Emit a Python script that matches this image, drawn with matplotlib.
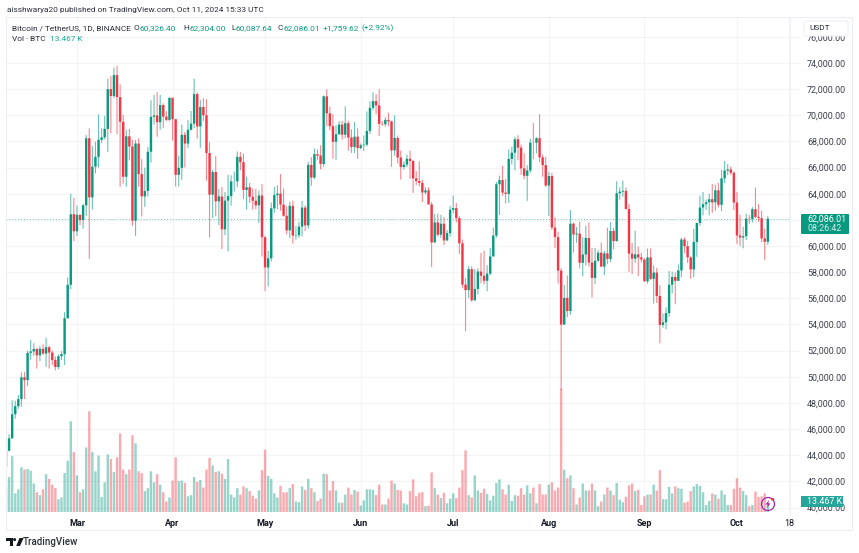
import pandas as pd
import matplotlib
matplotlib.use('Agg')
import matplotlib.pyplot as plt
from matplotlib.patches import Rectangle, FancyBboxPatch, Circle, Polygon

plt.rcParams['font.family'] = ['Roboto', 'DejaVu Sans']

dates = pd.date_range('2024-02-07', periods=248)

opens = [
    43087, 44341, 45293, 47132, 47751, 48293, 49958, 49742, 51826, 51939, 52123, 51642, 52137, 51775, 52258, 51849, 51288, 50744, 51571, 51733, 54476, 57037, 62432,
    61130, 62387, 61987, 63113, 68245, 63724, 66074, 66823, 68124, 68313, 68955, 72000, 71470, 73072, 71388, 69499, 65300, 68393, 67609, 61937, 67840, 65501, 63796, 64209, 67210, 69880, 69988, 69469, 70780, 69897, 69645,
    71333, 69702, 65446, 65980, 68508, 67837, 68896, 69360, 71620, 69146, 70631, 70006, 67116, 63924, 65661, 63419, 63793, 61277, 63470, 63818, 64941, 64941, 66819, 66414, 64289, 64498, 63770, 63461, 63118, 63866,
    60672, 58364, 59060, 62882, 63892, 64012, 63165, 62312, 61193, 63074, 60799, 60825, 61483, 62940, 61577, 66206, 65235, 67024, 66915, 66274, 71446, 70148, 69166, 67969, 68549, 69291, 68515, 69394, 68296, 67578, 68364,
    67491, 67706, 67751, 68804, 70567, 71082, 70757, 69342, 69310, 69648, 69540, 67314, 68263, 66773, 66043, 66228, 66676, 66504, 65175, 64974, 64828, 64096, 64252, 63180, 60277, 61806, 60864, 61706, 60427, 60986,
    62772, 62899, 62135, 60208, 57050, 56628, 58230, 55857, 56714, 58050, 57725, 57339, 57889, 59204, 60797, 64724, 65043, 64087, 63987, 66660, 67139, 68165, 67532, 65936, 65372, 65777, 67907, 67896, 68249, 66784, 66188,
    64628, 65354, 61415, 60680, 58116, 53991, 56034, 55027, 61710, 60880, 60945, 58719, 59354, 60609, 58737, 57560, 58874, 59491, 58427, 59438, 59013, 61156, 60375, 64037, 64157, 64220, 62834, 59415, 59034, 59359, 59123,
    58973, 57301, 59132, 57487, 57970, 56180, 53962, 54160, 54869, 57042, 57635, 57339, 58132, 60498, 59993, 59132, 58213, 60309, 61759, 62947, 63201, 63348, 63578, 63339, 64262, 63152, 65173, 65769, 65858, 65602,
    63327, 60805, 60649, 60752, 62086, 62058, 62819, 62224, 62134, 60582, 60326.40,
]
highs = [
    44400, 45600, 48200, 48170, 48600, 50334, 50368, 52000, 52816, 52570, 52200, 52345, 52488, 52985, 52370, 52000, 51548, 51700, 51960, 54938, 57588, 64000, 63676,
    63114, 62400, 63231, 68500, 69000, 67637, 67984, 70080, 68990, 69950, 72800, 73000, 73650, 73777, 72357, 70043, 68904, 68957, 68124, 68106, 68240, 66649, 65999, 67587, 71150, 71561, 71769, 71552, 70916, 70300, 71366,
    71366, 69708, 66914, 69291, 68725, 69629, 70326, 72797, 71758, 71172, 71305, 71227, 67931, 65840, 66867, 64365, 64499, 64125, 65450, 65419, 65695, 67232, 67199, 67075, 65297, 64820, 64400, 64370, 64228, 64734,
    60780, 59625, 63333, 64540, 64646, 65500, 64390, 63038, 63400, 63469, 61515, 61818, 63450, 63118, 66444, 66800, 67451, 67400, 67700, 71515, 71979, 70666, 70096, 69250, 69563, 69562, 70687, 69590, 68920, 69500, 69000,
    67844, 68460, 70288, 71063, 71758, 71600, 71997, 69560, 69850, 70195, 69590, 69999, 68449, 67300, 66478, 66998, 67298, 66588, 65727, 66482, 65066, 64500, 64491, 63369, 62435, 62487, 62389, 62225, 61224, 63058,
    63861, 63288, 62285, 60498, 57546, 58475, 58449, 58236, 58296, 59470, 59650, 58526, 59850, 61420, 64900, 65388, 66128, 65133, 67386, 67598, 68366, 68480, 67750, 67102, 66175, 68200, 69399, 68318, 70079, 67000, 66810,
    65659, 65596, 62198, 61100, 58305, 57040, 57736, 62745, 61800, 61470, 61858, 60680, 61572, 61800, 59849, 59847, 59686, 60262, 59617, 61400, 61820, 61400, 64955, 64494, 65000, 64481, 63212, 60234, 61166, 59944, 59462,
    59054, 59809, 59809, 58519, 58327, 57008, 54850, 55318, 58088, 58044, 57981, 58588, 60625, 60660, 60395, 59210, 61320, 61786, 63850, 64133, 63559, 64000, 64745, 64688, 64817, 65839, 66498, 66260, 66076, 65723,
    64130, 62390, 61469, 62484, 62370, 62975, 64478, 63200, 62700, 61340, 62304.00,
]
lows = [
    42788, 44300, 45242, 46800, 47550, 47700, 48300, 49300, 51300, 51600, 50625, 51200, 51677, 50760, 50625, 50900, 50500, 50585, 51280, 50900, 54450, 56700, 60364,
    60777, 61600, 61320, 62300, 59005, 62800, 65550, 66000, 67900, 68150, 67194, 68620, 71333, 68555, 64533, 64780, 64533, 66550, 61555, 60775, 64529, 62260, 63000, 63790, 66385, 69280, 68359, 68903, 69009, 69560, 69560,
    68062, 64550, 64559, 65064, 66011, 67491, 68824, 69043, 68210, 67518, 69567, 65000, 60660, 62134, 62274, 61600, 59768, 60833, 59600, 63090, 64160, 64500, 65786, 63589, 62794, 63297, 62781, 62809, 61765, 59191,
    56552, 56911, 58811, 62541, 62822, 62700, 62250, 60888, 60610, 60187, 60487, 60630, 60749, 61142, 61319, 64600, 65106, 66600, 65857, 66060, 69162, 68842, 66670, 66600, 68500, 68128, 68250, 67300, 67125, 67118, 66670,
    67400, 67257, 67612, 68568, 70383, 70117, 68420, 69210, 69131, 69172, 66051, 66905, 66304, 65078, 65857, 66034, 65130, 64060, 64666, 64559, 63379, 63943, 63180, 58402, 60239, 60712, 60606, 60063, 60383, 60712,
    62497, 61806, 59400, 56771, 53485, 56018, 55724, 55793, 56289, 57157, 57050, 56542, 57756, 59194, 60632, 62373, 63854, 63238, 63300, 66222, 65777, 66573, 65441, 65111, 63456, 65600, 66650, 67066, 66428, 65302, 64526,
    62302, 61236, 59850, 57122, 49000, 53970, 54558, 54730, 59500, 60242, 58286, 57688, 58504, 58433, 56078, 57098, 58785, 58418, 57787, 58610, 58783, 59724, 60342, 63531, 63773, 62800, 58034, 57860, 58713, 57700, 58744,
    57268, 57120, 57415, 55606, 55643, 52550, 53745, 53629, 54591, 56386, 55545, 57324, 57632, 59455, 58691, 57493, 57610, 59174, 61555, 62350, 62758, 62357, 62538, 62700, 62947, 62670, 64819, 65422, 65432, 62751,
    60164, 60000, 59828, 60459, 61689, 61798, 62128, 61860, 60300, 58946, 60087.64,
]
closes = [
    44341, 45293, 47132, 47751, 48293, 49958, 49742, 51826, 51939, 52123, 51642, 52137, 51775, 52258, 51849, 51288, 50744, 51571, 51733, 54476, 57037, 62432, 61130,
    62387, 61987, 63113, 68245, 63724, 66074, 66823, 68124, 68313, 68955, 72000, 71470, 73072, 71388, 69499, 65300, 68393, 67609, 61937, 67840, 65501, 63796, 64209, 67210, 69880, 69988, 69469, 70780, 69897, 69645, 71333,
    69702, 65446, 65980, 68508, 67837, 68896, 69360, 71620, 69146, 70631, 70006, 67116, 63924, 65661, 63419, 63793, 61277, 63470, 63818, 64941, 64941, 66819, 66414, 64289, 64498, 63770, 63461, 63118, 63866, 60672,
    58364, 59060, 62882, 63892, 64012, 63165, 62312, 61193, 63074, 60799, 60825, 61483, 62940, 61577, 66206, 65235, 67024, 66915, 66274, 71446, 70148, 69166, 67969, 68549, 69291, 68515, 69394, 68296, 67578, 68364, 67491,
    67706, 67751, 68804, 70567, 71082, 70757, 69342, 69310, 69648, 69540, 67314, 68263, 66773, 66043, 66228, 66676, 66504, 65175, 64974, 64828, 64096, 64252, 63180, 60277, 61806, 60864, 61706, 60427, 60986, 62772,
    62899, 62135, 60208, 57050, 56628, 58230, 55857, 56714, 58050, 57725, 57339, 57889, 59204, 60797, 64724, 65043, 64087, 63987, 66660, 67139, 68165, 67532, 65936, 65372, 65777, 67907, 67896, 68249, 66784, 66188, 64628,
    65354, 61415, 60680, 58116, 53991, 56034, 55027, 61710, 60880, 60945, 58719, 59354, 60609, 58737, 57560, 58874, 59491, 58427, 59438, 59013, 61156, 60375, 64037, 64157, 64220, 62834, 59415, 59034, 59359, 59123, 58973,
    57301, 59132, 57487, 57970, 56180, 53962, 54160, 54869, 57042, 57635, 57339, 58132, 60498, 59993, 59132, 58213, 60309, 61759, 62947, 63201, 63348, 63578, 63339, 64262, 63152, 65173, 65769, 65858, 65602, 63327,
    60805, 60649, 60752, 62086, 62058, 62819, 62224, 62134, 60582, 60326, 62086.01,
]
volumes = [  # thousand BTC
    44, 60, 96, 32, 39, 77, 73, 74, 71, 49, 34, 29, 39, 65, 57, 47, 41, 22, 25, 67, 88, 156, 103,
    63, 34, 39, 111, 173, 103, 70, 97, 26, 51, 99, 91, 69, 94, 135, 73, 65, 73, 132, 118, 70, 67, 36, 41, 70, 51, 65, 47, 34, 18, 25,
    54, 94, 53, 54, 50, 27, 29, 60, 52, 55, 42, 73, 93, 80, 69, 70, 66, 57, 91, 30, 25, 41, 30, 44, 41, 36, 28, 23, 37, 72,
    107, 62, 57, 32, 25, 45, 34, 34, 41, 48, 18, 17, 44, 38, 57, 41, 34, 19, 23, 66, 65, 37, 53, 37, 16, 16, 30, 42, 30, 38, 35,
    11, 20, 39, 39, 38, 29, 47, 13, 13, 23, 54, 49, 38, 37, 15, 13, 36, 56, 27, 33, 34, 10, 11, 68, 41, 30, 24, 33, 15, 23,
    32, 24, 42, 72, 106, 29, 25, 63, 37, 33, 40, 31, 20, 28, 50, 56, 39, 30, 47, 19, 29, 28, 41, 30, 46, 32, 42, 15, 48, 30, 30,
    47, 51, 37, 42, 212, 73, 58, 63, 41, 13, 25, 49, 37, 37, 49, 37, 10, 18, 30, 42, 37, 29, 50, 21, 17, 26, 46, 49, 36, 38, 12,
    27, 30, 30, 47, 37, 72, 22, 22, 43, 32, 44, 41, 40, 16, 18, 36, 44, 48, 45, 34, 12, 19, 32, 30, 23, 37, 30, 12, 12, 40,
    58, 42, 36, 29, 10, 12, 35, 26, 27, 32, 13.467,
]

price_ticks = list(range(40000, 78000, 2000))
month_ticks = ['2024-03-01', '2024-04-01', '2024-05-01', '2024-06-01', '2024-07-01', '2024-08-01', '2024-09-01', '2024-10-01', '2024-10-18']
month_labels = ['Mar', 'Apr', 'May', 'Jun', 'Jul', 'Aug', 'Sep', 'Oct', '18']

GREEN = '#089981'
RED = '#f23645'
GRID = '#f3f4f6'
TEXT = '#2a2e39'
W, H = 859, 553
FS = 5.95
FS_AXIS = 6.4

fig = plt.figure(figsize=(W / 100, H / 100), dpi=100, facecolor='white')

# main pane, pixel box x 6-790, y 17-512
ax = fig.add_axes([6 / W, 1 - 512 / H, 784 / W, 495 / H])

# volume pane sits over the grid, same pixel box (twinx resets the tick side, so do it first)
ax_vol = ax.twinx()

ax.set_xlim(pd.Timestamp('2024-02-07'), pd.Timestamp('2024-02-07') + pd.Timedelta(days=254.2))
ax.set_ylim(39656, 77517)
for s in ax.spines.values():
    s.set_visible(False)
ax.yaxis.tick_right()
ax.set_yticks(price_ticks)
ax.set_yticklabels([f'{p:,.2f}' for p in price_ticks], fontsize=FS_AXIS, color='#3a3e49')
ax.set_xticks(pd.to_datetime(month_ticks))
ax.set_xticklabels(month_labels, fontsize=FS_AXIS + 0.1, color='#131722', fontweight='bold')
ax.get_xticklabels()[-1].set_fontweight('normal')
ax.tick_params(axis='y', length=7.2, width=0.8, color=GRID, pad=5)
ax.tick_params(axis='x', length=0, pad=5)
ax.grid(True, color=GRID, lw=0.8)
ax.set_axisbelow(True)

up = [c >= o for o, c in zip(opens, closes)]
colors = [GREEN if u else RED for u in up]
body_low = [min(o, c) for o, c in zip(opens, closes)]
body_h = [abs(c - o) for o, c in zip(opens, closes)]

wicks = ax.vlines(dates, lows, highs, colors=colors, lw=0.8, alpha=0.6, zorder=3)
wicks.set_snap(False)
bars = ax.bar(dates, body_h, width=0.78, bottom=body_low, color=colors, lw=0, zorder=4)
for b in bars:
    b.set_snap(False)

ax.axhline(closes[-1], color=GREEN, lw=0.7, ls=(0, (1, 2)), alpha=0.6, zorder=2)

ax_vol.set_ylim(0, 851)
ax_vol.axis('off')
vbars = ax_vol.bar(dates, volumes, width=0.78, color=colors, alpha=0.42, lw=0)
for b in vbars:
    b.set_snap(False)

# overlay in pixel coordinates for all the chrome
ov = fig.add_axes([0, 0, 1, 1], zorder=10)
ov.set_xlim(0, W)
ov.set_ylim(H, 0)
ov.axis('off')
ov.patch.set_alpha(0)

ov.add_patch(Rectangle((6, 17), 845.5, 513, fill=False, ec='#eceef1', lw=0.8))
ov.plot([790, 790], [17, 515], color='#f0f1f3', lw=0.8)

ov.text(7, 10, 'aisshwarya20 published on TradingView.com, Oct 11, 2024 15:33 UTC', fontsize=FS, color=TEXT, va='center')

ov.text(12, 28, 'Bitcoin / TetherUS, 1D, BINANCE', fontsize=FS, color=TEXT, va='center')
ov.text(12, 39, 'Vol · BTC', fontsize=FS, color=TEXT, va='center')
ov.text(50, 39, '13.467 K', fontsize=FS, color='#22ab94', va='center')
header = [(134, 'O'), (183, 'H'), (231, 'L'), (277, 'C')]
values = [(140, '60,326.40'), (189, '62,304.00'), (235, '60,087.64'), (283, '62,086.01'), (323, '+1,759.62'), (362, '(+2.92%)')]
for x, t in header:
    ov.text(x, 28, t, fontsize=FS, color=TEXT, va='center')
for x, t in values:
    ov.text(x, 28, t, fontsize=FS, color=GREEN, va='center')

# USDT button hides most of the 76,000 label
ov.add_patch(FancyBboxPatch((804, 21), 44, 15, boxstyle='round,pad=0,rounding_size=2', fc='white', ec='#eef0f3', lw=0.8))
ov.text(809, 28.5, 'USDT', fontsize=FS, color=TEXT, va='center')

# last price and volume labels
ov.add_patch(FancyBboxPatch((801, 214), 48, 20, boxstyle='round,pad=0,rounding_size=1', fc=GREEN, ec='none'))
ov.text(807, 219, '62,086.01', fontsize=FS_AXIS, color='white', va='center')
ov.text(807, 228.5, '08:26:42', fontsize=FS_AXIS, color='#d5efe9', va='center')
ov.add_patch(Rectangle((801, 496), 42, 11, fc='#26a69a', ec='none'))
ov.text(807, 501.7, '13.467 K', fontsize=FS_AXIS, color='white', va='center')

# lightning badge
ov.add_patch(Circle((768, 504), 6.5, fill=False, ec='#9c27b0', lw=0.9))
ov.add_patch(Polygon([(769, 500), (765.5, 504.5), (767.8, 504.5), (767, 508), (770.5, 503.3), (768.3, 503.3)], fc='#9c27b0', ec='none'))
ov.add_patch(Circle((772.7, 499.4), 1.5, fc=RED, ec='none'))

# TradingView logo and name
ov.add_patch(Polygon([(6, 538), (13.2, 538), (13.2, 546), (10, 546), (10, 541), (6, 541)], fc='#131722', ec='none'))
ov.add_patch(Circle((14.6, 539.6), 1.5, fc='#131722', ec='none'))
ov.add_patch(Polygon([(16.2, 546), (19.5, 538), (23.6, 538), (20, 546)], fc='#131722', ec='none'))
ov.text(22.5, 542, 'TradingView', fontsize=7.0, color=TEXT, va='center', fontweight='medium')

fig.savefig('out.png', dpi=100, facecolor='white')
